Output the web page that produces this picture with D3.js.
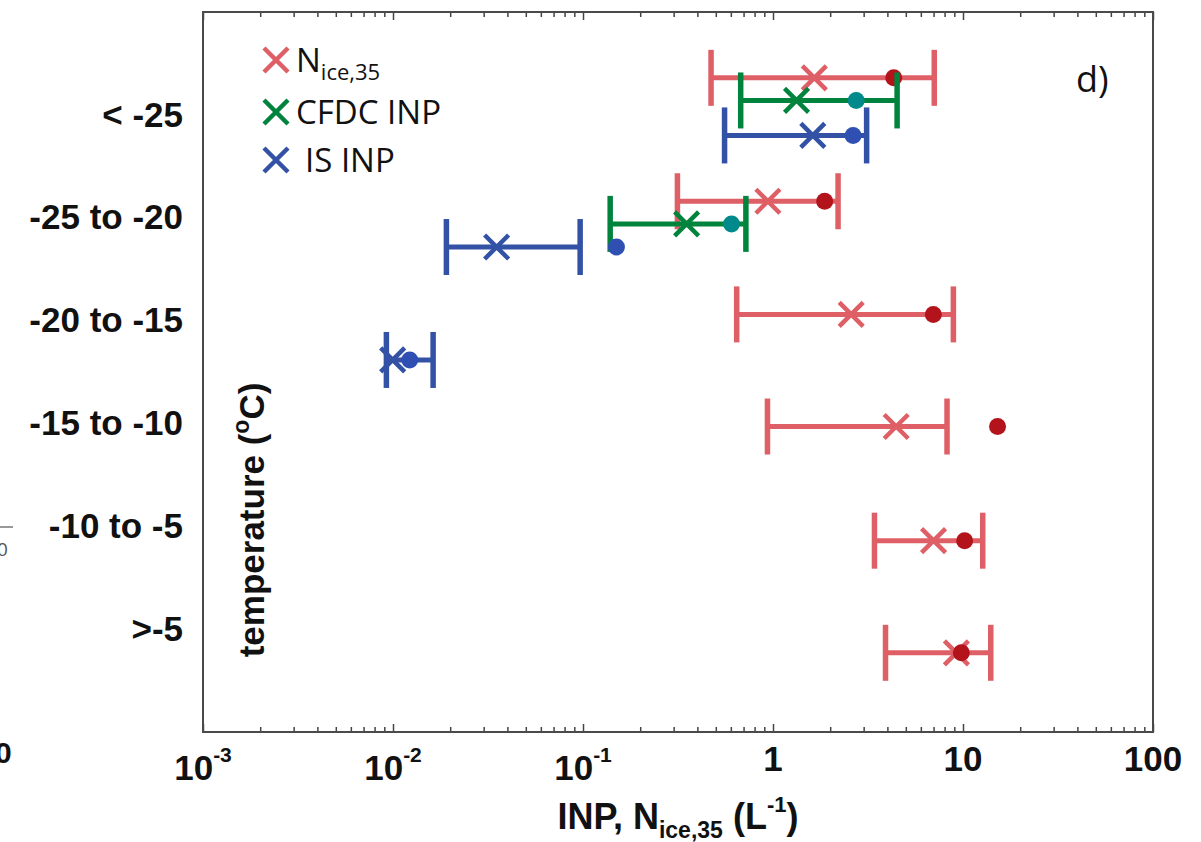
<!DOCTYPE html>
<html>
<head>
<meta charset="utf-8">
<script src="https://cdn.jsdelivr.net/npm/d3@7"></script>
<style>
  body { margin: 0; background: #fff; }
  svg { display: block; }
  .lab { font-family: "Liberation Sans", Arial, sans-serif; font-weight: bold; fill: #111; }
  .leg { font-family: "Open Sans", sans-serif; fill: #111; }
</style>
</head>
<body>
<svg id="chart" width="1201" height="842"></svg>
<script>
// temperature classes, top to bottom, and where they sit on the y scale
var categories = ["< -25", "-25 to -20", "-20 to -15", "-15 to -10", "-10 to -5", ">-5"];
var categoryPos = [5, 4, 3, 2, 1, 0];

// N_ice,35
var niceRow  = [5.36, 4.16, 3.06, 1.97, 0.86, -0.23];
var niceLow  = [0.472, 0.314, 0.644, 0.935, 3.42, 3.91];
var niceHigh = [7.06, 2.20, 8.9, 8.24, 12.7, 14.0];
var niceMed  = [1.65, 0.94, 2.58, 4.45, 7.0, 9.23];
var niceMean = [4.32, 1.87, 6.98, 15.2, 10.2, 9.8];

// CFDC INP
var cfdcRow  = [5.14, 3.94];
var cfdcLow  = [0.676, 0.139];
var cfdcHigh = [4.5, 0.72];
var cfdcMed  = [1.33, 0.351];
var cfdcMean = [2.74, 0.605];

// IS INP
var isRow  = [4.80, 3.715, 2.617];
var isLow  = [0.556, 0.0191, 0.00923];
var isHigh = [3.11, 0.0966, 0.01626];
var isMed  = [1.62, 0.0351, 0.00996];
var isMean = [2.64, 0.150, 0.01225];

// x tick labels
var xTickVals = [1e-3, 1e-2, 1e-1, 1, 10, 100];
var xTickBase = ["10", "10", "10", "1", "10", "100"];
var xTickExp  = ["-3", "-2", "-1", "", "", ""];

function rows(r, lo, hi, med, mean) {
  return r.map(function(d, i) {
    return {y: d, lo: lo[i], hi: hi[i], med: med[i], mean: mean[i]};
  });
}

var series = [
  {name: "N", sub: "ice,35", pad: 0, color: "#de5f65", dot: "#b3141c", data: rows(niceRow, niceLow, niceHigh, niceMed, niceMean)},
  {name: "CFDC INP", sub: "", pad: 0, color: "#00843d", dot: "#008a8c", data: rows(cfdcRow, cfdcLow, cfdcHigh, cfdcMed, cfdcMean)},
  {name: "IS INP", sub: "", pad: 9, color: "#3352a6", dot: "#2f4fb2", data: rows(isRow, isLow, isHigh, isMed, isMean)}
];

var svg = d3.select("#chart");
var plotL = 203, plotR = 1153, plotT = 12, plotB = 732;

var x = d3.scaleLog().domain([1e-3, 100]).range([plotL, plotR]);
var y = d3.scaleLinear().domain([-1, 6]).range([plotB, plotT]);

// minor + major ticks, bottom and top, pointing inward
var minor = x.ticks().filter(function(v) { return xTickVals.indexOf(v) < 0; });

function tickAxis(axisFn, vals, size, ty) {
  var g = svg.append("g")
    .attr("transform", "translate(0," + ty + ")")
    .call(axisFn(x).tickValues(vals).tickSize(size).tickSizeOuter(0).tickFormat(""));
  g.select(".domain").remove();
  g.selectAll("line").attr("stroke", "#444").attr("stroke-width", 1.5);
}
tickAxis(d3.axisBottom, minor, -5, plotB);
tickAxis(d3.axisBottom, xTickVals, -8, plotB);
tickAxis(d3.axisTop, minor, -5, plotT);
tickAxis(d3.axisTop, xTickVals, -8, plotT);

// frame
svg.append("rect")
  .attr("x", plotL).attr("y", plotT)
  .attr("width", plotR - plotL).attr("height", plotB - plotT)
  .attr("fill", "none").attr("stroke", "#4a4a4a").attr("stroke-width", 2);

// x tick labels with superscripts
var xl = svg.append("g").selectAll("text")
  .data(xTickVals).enter().append("text")
  .attr("class", "lab")
  .attr("x", function(d) { return x(d); })
  .attr("y", function(d, i) { return xTickExp[i] ? 780 : 771; })
  .attr("text-anchor", "middle")
  .style("font-size", "35px");
xl.append("tspan").text(function(d, i) { return xTickBase[i]; });
xl.append("tspan")
  .attr("dy", -18)
  .style("font-size", "21px")
  .text(function(d, i) { return xTickExp[i]; });

// y axis: category labels
var ya = svg.append("g")
  .attr("transform", "translate(" + plotL + ",0)")
  .call(d3.axisLeft(y).tickValues(categoryPos).tickSize(0).tickPadding(20)
    .tickFormat(function(d) { return categories[categoryPos.indexOf(d)]; }));
ya.select(".domain").remove();
ya.selectAll("text")
  .attr("class", "lab")
  .attr("font-family", null).attr("font-size", null)
  .style("font-size", "35px");

// axis titles
var xt = svg.append("text")
  .attr("class", "lab")
  .attr("x", (plotL + plotR) / 2).attr("y", 829)
  .attr("text-anchor", "middle")
  .style("font-size", "36px");
xt.append("tspan").text("INP, N");
xt.append("tspan").attr("dy", 9).style("font-size", "23px").text("ice,35");
xt.append("tspan").attr("dy", -9).text(" (L");
xt.append("tspan").attr("dy", -17).style("font-size", "22px").text("-1");
xt.append("tspan").attr("dy", 17).text(")");

var yt = svg.append("text")
  .attr("class", "lab")
  .attr("transform", "translate(264,520) rotate(-90)")
  .attr("text-anchor", "middle")
  .style("font-size", "35px");
yt.append("tspan").text("temperature (");
yt.append("tspan").attr("dy", -15).style("font-size", "23px").text("o");
yt.append("tspan").attr("dy", 15).text("C)");

// panel letter
svg.append("text")
  .attr("class", "leg")
  .attr("x", 1076).attr("y", 92)
  .style("font-size", "36px")
  .text("d)");

// error bars, medians (x) and means (dots)
var capH = 28, xs = 12;
function cross(s) { return "M" + (-s) + "," + (-s) + "L" + s + "," + s + "M" + (-s) + "," + s + "L" + s + "," + (-s); }

series.forEach(function(s) {
  var g = svg.append("g");
  var rowsSel = g.selectAll("g").data(s.data).enter().append("g");
  rowsSel.append("line")
    .attr("x1", function(d) { return x(d.lo); })
    .attr("x2", function(d) { return x(d.hi); })
    .attr("y1", function(d) { return y(d.y); })
    .attr("y2", function(d) { return y(d.y); })
    .attr("stroke", s.color).attr("stroke-width", 5);
  ["lo", "hi"].forEach(function(k) {
    rowsSel.append("line")
      .attr("x1", function(d) { return x(d[k]); })
      .attr("x2", function(d) { return x(d[k]); })
      .attr("y1", function(d) { return y(d.y) - capH; })
      .attr("y2", function(d) { return y(d.y) + capH; })
      .attr("stroke", s.color).attr("stroke-width", 5.5);
  });
  rowsSel.append("path")
    .attr("d", cross(xs))
    .attr("transform", function(d) { return "translate(" + x(d.med) + "," + y(d.y) + ")"; })
    .attr("fill", "none").attr("stroke", s.color).attr("stroke-width", 4.5);
  rowsSel.append("circle")
    .attr("cx", function(d) { return x(d.mean); })
    .attr("cy", function(d) { return y(d.y); })
    .attr("r", 8.5)
    .attr("fill", s.dot);
});

// legend
var legY = [60, 112, 160];
var leg = svg.append("g").selectAll("g").data(series).enter().append("g")
  .attr("transform", function(d, i) { return "translate(276," + legY[i] + ")"; });
leg.append("path")
  .attr("d", cross(12))
  .attr("fill", "none")
  .attr("stroke", function(d) { return d.color; })
  .attr("stroke-width", 4.5);
var lt = leg.append("text")
  .attr("class", "leg")
  .attr("x", function(d) { return 20 + d.pad; }).attr("y", 12)
  .style("font-size", "33px");
lt.append("tspan").text(function(d) { return d.name; });
lt.append("tspan").attr("dy", 8).style("font-size", "22px").text(function(d) { return d.sub; });

// cut-off bits of the neighbouring panel at the left edge
svg.append("line").attr("x1", 0).attr("x2", 13).attr("y1", 527).attr("y2", 527)
  .attr("stroke", "#777").attr("stroke-width", 1.5);
svg.append("text").attr("class", "leg").attr("x", -3).attr("y", 556)
  .style("font-size", "19px").style("fill", "#555").text("0");
svg.append("text").attr("class", "lab").attr("x", -5).attr("y", 763)
  .style("font-size", "30px").text("0");
</script>
</body>
</html>
